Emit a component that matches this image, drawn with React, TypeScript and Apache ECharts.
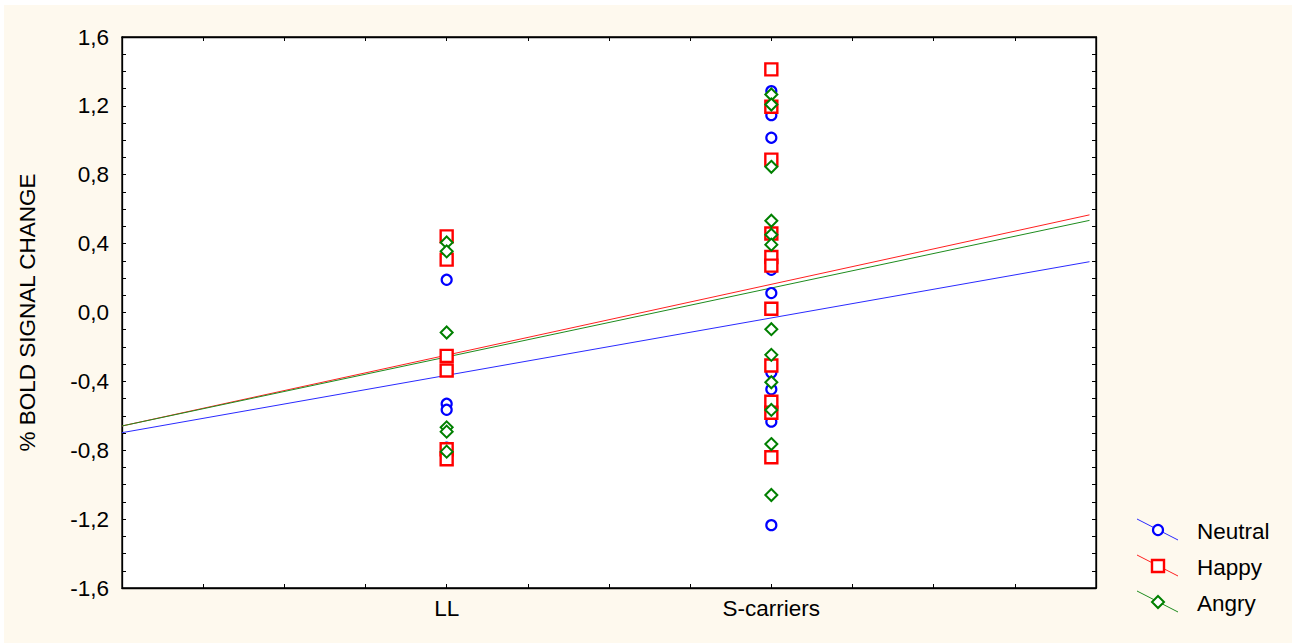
import React, { useEffect, useRef } from "react";
import * as echarts from "echarts";

// Categories on the x axis (placed at x = 1 and x = 2 on a 0..3 scale)
const categories = ["LL", "S-carriers"];
const categoryX = [1, 2];

// Individual values
const llNeutral = [0.19, -0.53, -0.565, -0.785, -0.25, -0.335];
const llHappy = [0.442, 0.307, -0.252, -0.337, -0.794, -0.852];
const llAngry = [0.407, 0.355, -0.116, -0.667, -0.692, -0.808];

const sNeutral = [1.286, 1.146, 1.015, 0.248, 0.113, -0.349, -0.446, -0.634, -1.235, -0.52, -0.58];
const sHappy = [1.412, 1.195, 0.888, 0.459, 0.322, 0.272, 0.022, -0.308, -0.518, -0.582, -0.841];
const sAngry = [1.266, 1.208, 0.846, 0.533, 0.452, 0.394, -0.097, -0.246, -0.405, -0.566, -0.764, -1.06];

// Fitted regression lines (end points)
const fitX = [0, 2.98];
const neutralFit = [-0.698, 0.295];
const happyFit = [-0.659, 0.567];
const angryFit = [-0.659, 0.535];

const seriesNames = ["Neutral", "Happy", "Angry"];
const colors = ["#0000FF", "#FF0000", "#008000"];
const lineColors = ["#2a2aff", "#ff2020", "#1e8c1e"];

const FONT = 'Arial, "Liberation Sans", sans-serif';

function pts(ll: number[], s: number[]) {
  return [
    ...ll.map((v) => [categoryX[0], v]),
    ...s.map((v) => [categoryX[1], v]),
  ];
}

function fit(vals: number[]) {
  return fitX.map((x, i) => [x, vals[i]]);
}

export default function App() {
  const ref = useRef<HTMLDivElement>(null);

  useEffect(() => {
    if (!ref.current) return;
    const chart = echarts.init(ref.current, undefined, { renderer: "svg" });

    const xLabel = (v: number) => {
      const i = categoryX.findIndex((c) => Math.abs(c - v) < 1e-6);
      return i >= 0 ? categories[i] : "";
    };
    const yLabel = (v: number) => {
      const k = Math.round(v * 10);
      if (k % 4 !== 0) return "";
      return (k / 10).toFixed(1).replace(".", ",");
    };

    const axisLineStyle = { color: "#000", width: 1.3 };
    const tickStyle = { color: "#000", width: 1 };

    const legendY = [530, 566, 602];
    const legendGraphics: any[] = [];
    seriesNames.forEach((name, i) => {
      const cy = legendY[i];
      legendGraphics.push({
        type: "line",
        shape: { x1: 1137, y1: cy - 11, x2: 1178, y2: cy + 10 },
        style: { stroke: lineColors[i], lineWidth: 1 },
        silent: true,
      });
      if (i === 0) {
        legendGraphics.push({
          type: "circle",
          shape: { cx: 1158, cy, r: 5 },
          style: { fill: "#fff", stroke: colors[i], lineWidth: 2.2 },
          silent: true,
        });
      } else if (i === 1) {
        legendGraphics.push({
          type: "rect",
          shape: { x: 1152, y: cy - 6, width: 12, height: 12 },
          style: { fill: "#fff", stroke: colors[i], lineWidth: 2.4 },
          silent: true,
        });
      } else {
        legendGraphics.push({
          type: "polygon",
          shape: {
            points: [
              [1158, cy - 6],
              [1164, cy],
              [1158, cy + 6],
              [1152, cy],
            ],
          },
          style: { fill: "#fff", stroke: colors[i], lineWidth: 2 },
          silent: true,
        });
      }
      legendGraphics.push({
        type: "text",
        x: 1197,
        y: cy + 1,
        style: {
          text: name,
          fontSize: 22.5,
          fontFamily: FONT,
          fill: "#000",
          verticalAlign: "middle",
          align: "left",
        },
        silent: true,
      });
    });

    const symbols = ["circle", "rect", "diamond"];
    const sizes = [10, 12, 12];
    const borderWidths = [2.2, 2.4, 2];
    const ptsData = [pts(llNeutral, sNeutral), pts(llHappy, sHappy), pts(llAngry, sAngry)];
    const fits = [neutralFit, happyFit, angryFit];

    const series: any[] = [];
    fits.forEach((f, i) => {
      series.push({
        name: seriesNames[i] + " fit",
        type: "line",
        data: fit(f),
        showSymbol: false,
        symbol: "none",
        lineStyle: { color: lineColors[i], width: 1 },
        silent: true,
        z: 2,
      });
    });
    ptsData.forEach((d, i) => {
      series.push({
        name: seriesNames[i],
        type: "scatter",
        data: d,
        symbol: symbols[i],
        symbolSize: sizes[i],
        itemStyle: { color: "#fff", borderColor: colors[i], borderWidth: borderWidths[i], opacity: 1 },
        z: 3 + i,
      });
    });

    chart.setOption({
      animation: false,
      backgroundColor: "transparent",
      textStyle: { fontFamily: FONT },
      grid: {
        left: 122,
        top: 37,
        right: 196,
        bottom: 55,
        show: true,
        backgroundColor: "#fff",
        borderColor: "#000",
        borderWidth: 1.3,
      },
      xAxis: [
        {
          type: "value",
          min: 0,
          max: 3,
          interval: 0.25,
          position: "bottom",
          axisLine: { show: true, onZero: false, lineStyle: axisLineStyle },
          axisTick: { show: true, inside: true, length: 4, lineStyle: tickStyle },
          splitLine: { show: false },
          axisLabel: {
            formatter: xLabel,
            fontSize: 22.5,
            fontFamily: FONT,
            color: "#000",
            margin: 9,
            showMinLabel: true,
            showMaxLabel: true,
          },
        },
        {
          type: "value",
          min: 0,
          max: 3,
          interval: 0.25,
          position: "top",
          axisLine: { show: true, onZero: false, lineStyle: axisLineStyle },
          axisTick: { show: true, inside: true, length: 4, lineStyle: tickStyle },
          splitLine: { show: false },
          axisLabel: { show: false },
        },
      ],
      yAxis: [
        {
          type: "value",
          min: -1.6,
          max: 1.6,
          interval: 0.1,
          position: "left",
          name: "% BOLD SIGNAL CHANGE",
          nameLocation: "middle",
          nameRotate: 90,
          nameGap: 83,
          nameTextStyle: { fontSize: 22.5, fontFamily: FONT, color: "#000" },
          axisLine: { show: true, onZero: false, lineStyle: axisLineStyle },
          axisTick: { show: true, inside: true, length: 4, lineStyle: tickStyle },
          splitLine: { show: false },
          axisLabel: {
            formatter: yLabel,
            fontSize: 22.5,
            fontFamily: FONT,
            color: "#000",
            margin: 13,
            showMinLabel: true,
            showMaxLabel: true,
          },
        },
        {
          type: "value",
          min: -1.6,
          max: 1.6,
          interval: 0.1,
          position: "right",
          axisLine: { show: true, onZero: false, lineStyle: axisLineStyle },
          axisTick: { show: true, inside: true, length: 4, lineStyle: tickStyle },
          splitLine: { show: false },
          axisLabel: { show: false },
        },
      ],
      graphic: legendGraphics,
      series,
    });

    return () => chart.dispose();
  }, []);

  return (
    <div
      style={{
        position: "fixed",
        left: 0,
        top: 0,
        width: 1292,
        height: 643,
        background: "#fff",
        overflow: "hidden",
      }}
    >
      <div
        style={{
          position: "absolute",
          left: 4,
          top: 5,
          width: 1288,
          height: 638,
          background: "#FEF9EE",
        }}
      />
      <div
        ref={ref}
        style={{ position: "absolute", left: 0, top: 0, width: 1292, height: 643 }}
      />
    </div>
  );
}
